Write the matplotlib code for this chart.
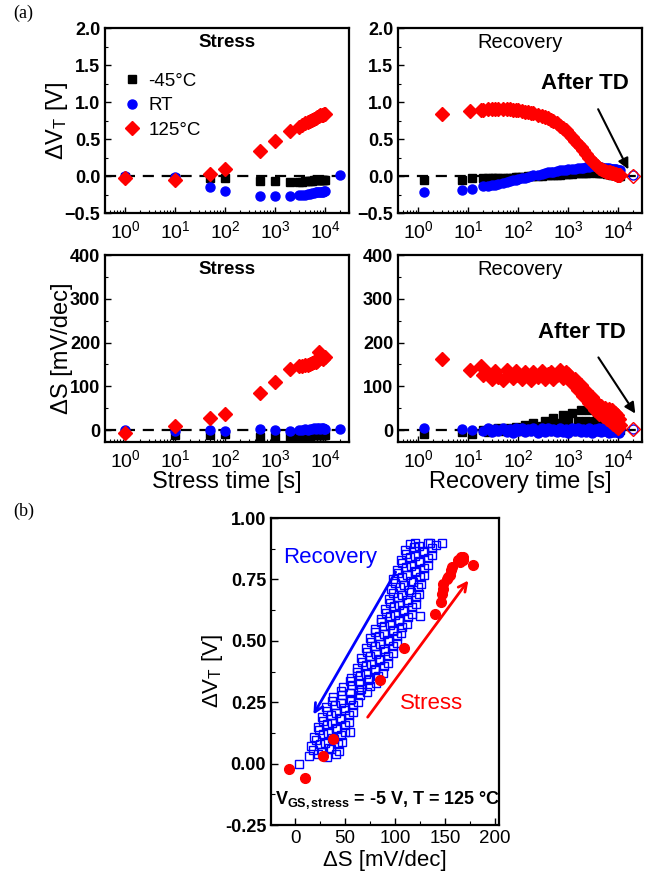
import matplotlib
matplotlib.use("Agg")
import matplotlib.pyplot as plt
from matplotlib.ticker import LogLocator, MultipleLocator, NullFormatter

plt.rcParams["font.family"] = ["Liberation Sans", "DejaVu Sans"]
plt.rcParams["mathtext.fontset"] = "custom"
plt.rcParams["mathtext.rm"] = "Liberation Sans"
plt.rcParams["mathtext.it"] = "Liberation Sans:italic"
plt.rcParams["mathtext.bf"] = "Liberation Sans:bold"

# ---- stress (top/bottom left) ----
t_stress = [1, 10, 50, 100, 500, 1000, 2000,
            3000, 3500, 4000, 4500, 5000, 5500, 6000, 6500, 7000, 7500, 8000, 8500, 9000, 9500, 10000]
vt_stress_m45 = [-0.01, -0.02, -0.03, -0.03, -0.07, -0.07, -0.08,
                 -0.08, -0.08, -0.07, -0.07, -0.07, -0.07, -0.06, -0.06, -0.06, -0.06, -0.05, -0.05, -0.05, -0.05, -0.05]
vt_stress_rt = [0.0, -0.01, -0.15, -0.2, -0.27, -0.27, -0.27,
                -0.26, -0.25, -0.25, -0.24, -0.24, -0.23, -0.23, -0.22, -0.22, -0.22, -0.21, -0.21, -0.21, -0.2, -0.2]
vt_stress_125 = [-0.02, -0.06, 0.03, 0.1, 0.34, 0.47, 0.61,
                 0.66, 0.69, 0.71, 0.73, 0.75, 0.76, 0.77, 0.79, 0.8, 0.81, 0.82, 0.83, 0.83, 0.84, 0.84]
ds_stress_m45 = [-5, -12, -12, -8, -15, -15, -15,
                 -15, -14, -14, -13, -13, -12, -12, -12, -11, -11, -11, -10, -10, -10, -10]
ds_stress_rt = [0, -2, 0, -2, 2, 0, -1,
                1, 0, 2, 1, 3, 2, 4, 3, 5, 4, 3, 5, 4, 3, 2]
ds_stress_125 = [-6, 10, 28, 38, 85, 109, 140,
                 146, 147, 148, 148, 152, 153, 155, 156, 157, 178, 165, 168, 163, 166, 168]

# ---- recovery (top/bottom right) ----
t_rec = [20, 25, 30, 35, 40, 50, 60, 70, 80, 90,
         100, 120, 140, 160, 180, 200, 250, 300, 350, 400,
         450, 500, 600, 700, 800, 900, 1000, 1200, 1400, 1600,
         1800, 2000, 2300, 2600, 3000, 3400, 3800, 4200, 4600, 5000,
         5500, 6000, 6500, 7000, 7500, 8000, 8500, 9000, 9500, 10000,
         10500, 11000]
t_early_125 = [3, 11, 18]
t_early_other = [1.3, 7.5, 12]

vt_rec_125 = [0.84, 0.88, 0.89,
              0.89, 0.9, 0.9, 0.9, 0.9, 0.9, 0.9, 0.9, 0.89, 0.89,
              0.89, 0.88, 0.87, 0.86, 0.85, 0.85, 0.83, 0.81, 0.8, 0.78,
              0.76, 0.74, 0.71, 0.68, 0.65, 0.62, 0.58, 0.53, 0.48, 0.43,
              0.39, 0.35, 0.3, 0.25, 0.2, 0.16, 0.13, 0.11, 0.09, 0.08,
              0.07, 0.06, 0.05, 0.05, 0.04, 0.04, 0.03, 0.03, 0.02, 0.02,
              0.01, 0.01]
ds_rec_125 = [163, 137, 146,
              125, 130, 118, 135, 122, 114, 138, 128, 120, 136,
              126, 118, 134, 124, 115, 132, 122, 136, 118, 128,
              134, 116, 126, 138, 120, 132, 128, 108, 118, 92,
              104, 78, 90, 62, 75, 45, 62, 38, 55, 32,
              50, 25, 48, 20, 45, 15, 40, 10, 35, 5,
              25, 12]
vt_rec_rt = [-0.21, -0.19, -0.17,
             -0.14, -0.13, -0.12, -0.115, -0.11, -0.09, -0.08, -0.07, -0.06, -0.05,
             -0.04, -0.03, -0.02, -0.01, 0.0, 0.01, 0.02, 0.03, 0.04, 0.05,
             0.055, 0.06, 0.07, 0.075, 0.08, 0.085, 0.09, 0.095, 0.1, 0.105,
             0.11, 0.115, 0.12, 0.125, 0.13, 0.13, 0.125, 0.12, 0.12, 0.115,
             0.11, 0.11, 0.105, 0.1, 0.1, 0.095, 0.09, 0.09, 0.085, 0.08,
             0.08, 0.075]
ds_rec_rt = [5, 2, 0,
             -2, 4, -5, 3, -3, 5, -4, 2, -6, 4,
             -3, 6, -5, 3, -2, 5, -6, 4, -4, 6,
             -3, 2, -5, 5, -4, 3, -6, 6, -3, 4,
             -5, 2, -4, 6, -6, 3, -3, 5, -5, 4,
             -2, 6, -6, 3, -4, 5, -5, 2, -3, 4,
             -6, 3]
vt_rec_m45 = [-0.05, -0.05, -0.03,
              -0.03, -0.03, -0.03, -0.03, -0.025, -0.025, -0.02, -0.02, -0.02, -0.015,
              -0.015, -0.01, -0.01, -0.005, -0.005, 0.0, 0.0, 0.005, 0.01, 0.01,
              0.015, 0.015, 0.02, 0.02, 0.025, 0.025, 0.03, 0.03, 0.035, 0.035,
              0.04, 0.04, 0.045, 0.045, 0.05, 0.05, 0.045, 0.045, 0.04, 0.04,
              0.035, 0.03, 0.03, 0.025, 0.02, 0.02, 0.015, 0.01, 0.01, 0.005,
              0.0, 0.0]
ds_rec_m45 = [-9, -4, -8,
              0, -4, 3, -3, 4, -2, 6, -3, 3, 8,
              -2, 4, 12, -3, 6, 16, -2, 10, 22, -3,
              12, 28, -2, 16, 34, -3, 20, 40, -2, 22,
              46, -3, 22, 45, -2, 20, 38, -3, 15, 28,
              -3, 12, 20, -4, 10, 14, -4, 6, 8, -3,
              3, 0]

# after thermal detrapping
t_td = [20000]
vt_td_rt = [0.02]
vt_td_125 = [0.0]
ds_td_rt = [2]
ds_td_125 = [2]

# ---- panel (b): recovery cloud at 125 C ----
ds_b = [14, 23, 32, 41, 18, 27, 36, 44, 16, 25, 34, 43, 21, 30, 39, 47,
        19, 28, 37, 46, 24, 33, 42, 50, 23, 32, 41, 50, 28, 37, 46, 54,
        27, 36, 45, 54, 32, 41, 50, 58, 31, 40, 49, 58, 37, 46, 55, 63,
        38, 47, 56, 65, 46, 55, 64, 72, 48, 57, 66, 75, 55, 64, 73, 81,
        56, 65, 74, 83, 62, 71, 80, 88, 62, 71, 80, 89, 67, 76, 85, 93,
        66, 75, 84, 93, 72, 81, 90, 98, 71, 80, 89, 98, 76, 85, 94, 102,
        75, 84, 93, 102, 80, 89, 98, 106, 80, 89, 98, 107, 86, 95, 104, 112,
        86, 95, 104, 113, 91, 100, 109, 117, 90, 99, 108, 117, 95, 104, 113, 121,
        94, 103, 112, 121, 98, 107, 116, 124, 96, 105, 114, 123, 100, 109, 118, 126,
        98, 107, 116, 125, 103, 112, 121, 129, 102, 111, 120, 129, 107, 116, 125, 133,
        106, 115, 124, 133, 111, 120, 129, 137, 110, 119, 128, 137, 115, 124, 133, 141,
        147, 4, 125, 55, 135, 120]
vt_b = [0.03, 0.04, 0.025, 0.038, 0.055, 0.046, 0.06, 0.05, 0.07, 0.08, 0.065, 0.078, 0.095, 0.086, 0.1, 0.09,
        0.11, 0.12, 0.105, 0.118, 0.135, 0.126, 0.14, 0.13, 0.15, 0.16, 0.145, 0.158, 0.175, 0.166, 0.18, 0.17,
        0.19, 0.2, 0.185, 0.198, 0.215, 0.206, 0.22, 0.21, 0.23, 0.24, 0.225, 0.238, 0.255, 0.246, 0.26, 0.25,
        0.27, 0.28, 0.265, 0.278, 0.295, 0.286, 0.3, 0.29, 0.31, 0.32, 0.305, 0.318, 0.335, 0.326, 0.34, 0.33,
        0.35, 0.36, 0.345, 0.358, 0.375, 0.366, 0.38, 0.37, 0.39, 0.4, 0.385, 0.398, 0.415, 0.406, 0.42, 0.41,
        0.43, 0.44, 0.425, 0.438, 0.455, 0.446, 0.46, 0.45, 0.47, 0.48, 0.465, 0.478, 0.495, 0.486, 0.5, 0.49,
        0.51, 0.52, 0.505, 0.518, 0.535, 0.526, 0.54, 0.53, 0.55, 0.56, 0.545, 0.558, 0.575, 0.566, 0.58, 0.57,
        0.59, 0.6, 0.585, 0.598, 0.615, 0.606, 0.62, 0.61, 0.63, 0.64, 0.625, 0.638, 0.655, 0.646, 0.66, 0.65,
        0.67, 0.68, 0.665, 0.678, 0.695, 0.686, 0.7, 0.69, 0.71, 0.72, 0.705, 0.718, 0.735, 0.726, 0.74, 0.73,
        0.75, 0.76, 0.745, 0.758, 0.775, 0.766, 0.78, 0.77, 0.79, 0.8, 0.785, 0.798, 0.815, 0.806, 0.82, 0.81,
        0.83, 0.84, 0.825, 0.838, 0.855, 0.846, 0.86, 0.85, 0.87, 0.88, 0.865, 0.878, 0.895, 0.886, 0.9, 0.89,
        0.9, 0.0, 0.6, 0.13, 0.9, 0.9]

BLACK, BLUE, RED = "black", "#0000ff", "#ff0000"
XLIM = (0.4, 3e4)
MS_SQ, MS_CI, MS_DI = 6, 6.5, 7.2


def style_log_axis(ax):
    ax.set_xscale("log")
    ax.set_xlim(*XLIM)
    ax.xaxis.set_major_locator(LogLocator(base=10, numticks=10))
    ax.xaxis.set_minor_locator(LogLocator(base=10, subs=range(2, 10), numticks=10))
    ax.xaxis.set_minor_formatter(NullFormatter())
    ax.axhline(0, color="black", linestyle=(0, (5, 3.5)), linewidth=1.6, zorder=1)
    ax.tick_params(which="both", direction="in", top=False, right=False)
    ax.tick_params(axis="x", labelsize=14, pad=5)
    ax.tick_params(axis="y", labelsize=13)
    ax.tick_params(which="major", length=4, width=1)
    ax.tick_params(which="minor", length=2, width=0.8)
    for lab in ax.get_yticklabels():
        lab.set_fontweight("bold")
    for sp in ax.spines.values():
        sp.set_linewidth(1.6)


fig = plt.figure(figsize=(6.54, 8.84), dpi=100)
ax_vs = fig.add_axes([0.1606, 0.759, 0.3731, 0.2093])
ax_vr = fig.add_axes([0.6086, 0.759, 0.3731, 0.2093])
ax_ss = fig.add_axes([0.1606, 0.5, 0.3731, 0.2115])
ax_sr = fig.add_axes([0.6086, 0.5, 0.3731, 0.2115])
ax_b = fig.add_axes([0.4144, 0.0667, 0.3486, 0.3473])

# stress dVT
ax_vs.plot(t_stress, vt_stress_m45, "s", color=BLACK, ms=MS_SQ, label="-45°C", zorder=3)
ax_vs.plot(t_stress + t_td, vt_stress_rt + vt_td_rt, "o", color=BLUE, ms=MS_CI, label="RT", zorder=4)
ax_vs.plot(t_stress, vt_stress_125, "D", color=RED, ms=MS_DI, label="125°C", zorder=5)
ax_vs.set_ylim(-0.5, 2.0)
ax_vs.yaxis.set_major_locator(MultipleLocator(0.5))
ax_vs.yaxis.set_minor_locator(MultipleLocator(0.25))
ax_vs.set_ylabel("ΔV$_\\mathregular{T}$ [V]", fontsize=17, labelpad=-4)
ax_vs.text(0.5, 0.92, "Stress", transform=ax_vs.transAxes, ha="center", va="center",
           fontsize=13.5, fontweight="bold")
ax_vs.legend(loc="upper left", bbox_to_anchor=(0.04, 0.8), frameon=False, fontsize=13.5,
             handletextpad=0.4, labelspacing=0.4, borderaxespad=0, handlelength=1.0)

# recovery dVT
t_rec_125 = t_early_125 + t_rec
t_rec_oth = t_early_other + t_rec
ax_vr.plot(t_rec_oth, vt_rec_m45, "s", color=BLACK, ms=MS_SQ, zorder=3)
ax_vr.plot(t_rec_oth, vt_rec_rt, "o", color=BLUE, ms=MS_CI, zorder=4)
ax_vr.plot(t_rec_125, vt_rec_125, "D", color=RED, ms=MS_DI, zorder=5)
ax_vr.plot(t_td, vt_td_rt, "o", mfc="none", mec=BLUE, ms=MS_CI, zorder=6)
ax_vr.plot(t_td, vt_td_125, "D", mfc="none", mec=RED, ms=MS_DI, zorder=6)
ax_vr.set_ylim(-0.5, 2.0)
ax_vr.yaxis.set_major_locator(MultipleLocator(0.5))
ax_vr.yaxis.set_minor_locator(MultipleLocator(0.25))
ax_vr.text(0.5, 0.92, "Recovery", transform=ax_vr.transAxes, ha="center", va="center", fontsize=14.5)
ax_vr.annotate("After TD", xy=(1.6e4, 0.09), xytext=(2200, 1.25), fontsize=16, fontweight="bold",
               ha="center", va="center",
               arrowprops=dict(arrowstyle="-|>", color="black", lw=1.5, shrinkA=10, shrinkB=0))

# stress dS
ax_ss.plot(t_stress, ds_stress_m45, "s", color=BLACK, ms=MS_SQ, zorder=3)
ax_ss.plot(t_stress + t_td, ds_stress_rt + ds_td_rt, "o", color=BLUE, ms=MS_CI, zorder=4)
ax_ss.plot(t_stress, ds_stress_125, "D", color=RED, ms=MS_DI, zorder=5)
ax_ss.set_ylim(-27, 400)
ax_ss.yaxis.set_major_locator(MultipleLocator(100))
ax_ss.yaxis.set_minor_locator(MultipleLocator(50))
ax_ss.set_ylabel("ΔS [mV/dec]", fontsize=17, labelpad=-2)
ax_ss.set_xlabel("Stress time [s]", fontsize=17, labelpad=0)
ax_ss.text(0.5, 0.92, "Stress", transform=ax_ss.transAxes, ha="center", va="center",
           fontsize=13.5, fontweight="bold")

# recovery dS
ax_sr.plot(t_rec_oth, ds_rec_m45, "s", color=BLACK, ms=MS_SQ, zorder=3)
ax_sr.plot(t_rec_oth, ds_rec_rt, "o", color=BLUE, ms=MS_CI, zorder=4)
ax_sr.plot(t_rec_125, ds_rec_125, "D", color=RED, ms=MS_DI, zorder=5)
ax_sr.plot(t_td, ds_td_rt, "o", mfc="none", mec=BLUE, ms=MS_CI, zorder=6)
ax_sr.plot(t_td, ds_td_125, "D", mfc="none", mec=RED, ms=MS_DI, zorder=6)
ax_sr.set_ylim(-27, 400)
ax_sr.yaxis.set_major_locator(MultipleLocator(100))
ax_sr.yaxis.set_minor_locator(MultipleLocator(50))
ax_sr.set_xlabel("Recovery time [s]", fontsize=17, labelpad=0)
ax_sr.text(0.5, 0.92, "Recovery", transform=ax_sr.transAxes, ha="center", va="center", fontsize=14.5)
ax_sr.annotate("After TD", xy=(2.2e4, 38), xytext=(1900, 223), fontsize=16, fontweight="bold",
               ha="center", va="center",
               arrowprops=dict(arrowstyle="-|>", color="black", lw=1.5, shrinkA=10, shrinkB=0))

for ax in (ax_vs, ax_vr, ax_ss, ax_sr):
    style_log_axis(ax)

# panel (b)
ax_b.plot(ds_b, vt_b, "s", mfc="none", mec=BLUE, mew=1.0, ms=5.5, zorder=3)
ax_b.plot(ds_stress_125, vt_stress_125, "o", color=RED, ms=7, zorder=4)
ax_b.set_xlim(-24, 204)
ax_b.set_ylim(-0.25, 1.0)
ax_b.xaxis.set_major_locator(MultipleLocator(50))
ax_b.xaxis.set_minor_locator(MultipleLocator(25))
ax_b.yaxis.set_major_locator(MultipleLocator(0.25))
ax_b.yaxis.set_minor_locator(MultipleLocator(0.125))
ax_b.yaxis.set_major_formatter(plt.FuncFormatter(lambda v, p: f"{v:.2f}"))
ax_b.tick_params(which="both", direction="in", top=False, right=False)
ax_b.tick_params(axis="x", labelsize=13.5)
ax_b.tick_params(axis="y", labelsize=13)
ax_b.tick_params(which="major", length=5, width=1)
ax_b.tick_params(which="minor", length=3, width=0.8)
for lab in ax_b.get_yticklabels():
    lab.set_fontweight("bold")
for sp in ax_b.spines.values():
    sp.set_linewidth(1.6)
ax_b.set_xlabel("ΔS [mV/dec]", fontsize=16, labelpad=2)
ax_b.set_ylabel("ΔV$_\\mathregular{T}$ [V]", fontsize=16, labelpad=0)
ax_b.text(-12, 0.84, "Recovery", color=BLUE, fontsize=16, ha="left", va="center")
ax_b.text(137, 0.245, "Stress", color=RED, fontsize=16, ha="center", va="center")
ax_b.annotate("", xy=(17, 0.19), xytext=(102, 0.79),
              arrowprops=dict(arrowstyle="->,head_length=0.6,head_width=0.3", color=BLUE, lw=2))
ax_b.annotate("", xy=(175, 0.755), xytext=(71, 0.18),
              arrowprops=dict(arrowstyle="->,head_length=0.6,head_width=0.3", color=RED, lw=2))
ax_b.text(-20, -0.15, "V$_\\mathregular{GS,stress}$ = -5 V, T = 125 °C", fontsize=13,
          fontweight="bold", ha="left", va="center")

fig.text(0.02, 0.985, "(a)", family=["Liberation Serif"], fontsize=13, va="center")
fig.text(0.02, 0.421, "(b)", family=["Liberation Serif"], fontsize=13, va="center")

fig.savefig("out.png", dpi=100)
